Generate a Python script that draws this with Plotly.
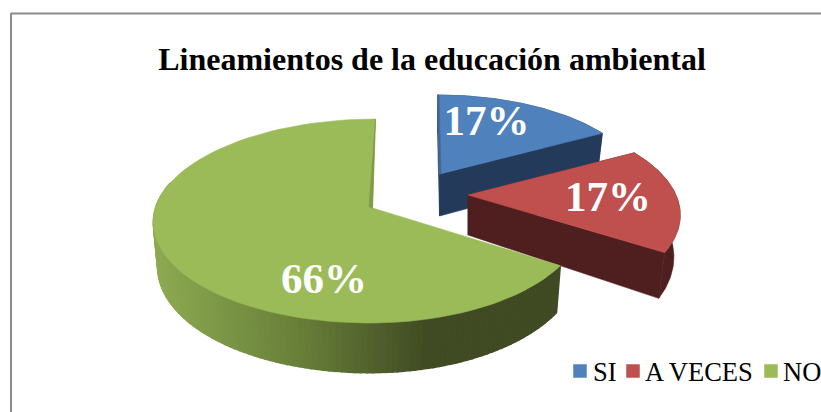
import numpy as np
import plotly.graph_objects as go

categories = ["SI", "A VECES", "NO"]
values = [17, 17, 66]
colors = ["#4f81bd", "#c0504d", "#9bbb59"]
side_colors = ["#243a5a", "#4f1f1f", None]
title = "Lineamientos de la educación ambiental"

# projection of each exploded slice, in pixels
geom = [
    dict(ax=439.5, ay=174, A=90.5, Bl=200, Br=200, k=0.145, shear=-2, d=42, sx=0.97, sy=1.05),
    dict(ax=468, ay=195, A=96, Bl=208, Br=208, k=0.20, shear=0, d=40, sx=0.97, sy=1.10),
    dict(ax=372.5, ay=208, A=100.3, Bl=217, Br=209, k=0.1275, shear=3, d=44, sx=0.98, sy=1.05),
]
label_pos = [(486.5, 124), (608, 200), (324, 282)]
legend_key_x = [580, 633, 771]
legend_text_x = [590.5, 643, 780.5]
legend_y = 371


def project(g, t, bottom=False):
    u, v = np.sin(t), np.cos(t)
    s = 1 + g["k"] * v
    b = np.where(u < 0, g["Bl"], g["Br"])
    dx = b * u / s + g["shear"] * v
    dy = -g["A"] * v / s
    if bottom:
        return g["ax"] + g["sx"] * dx, g["ay"] + g["d"] + g["sy"] * dy
    return g["ax"] + dx, g["ay"] + dy


def poly(fig, x, y, color, w=0.6):
    fig.add_trace(go.Scatter(x=list(x), y=list(y), mode="lines", fill="toself",
                             fillcolor=color, line=dict(color=color, width=w),
                             hoverinfo="skip", showlegend=False))


def green_side(x):
    stops_x = [155, 300, 430, 560]
    rgb = np.array([[0x8d, 0xaa, 0x52], [0x68, 0x7f, 0x39], [0x40, 0x4a, 0x23], [0x40, 0x4a, 0x23]])
    c = [int(np.interp(x, stops_x, rgb[:, i])) for i in range(3)]
    return f"rgb({c[0]},{c[1]},{c[2]})"


fig = go.Figure()
cum = np.cumsum([0] + values) / sum(values) * 2 * np.pi

for i, g in enumerate(geom):
    a0, a1 = cum[i], cum[i + 1]
    ts = np.linspace(a0, a1, 90)
    xt, yt = project(g, ts)
    xb, yb = project(g, ts, True)
    if i < 2:
        # flat cut faces and outer wall
        for edge in (a0, a1):
            x1, y1 = project(g, edge)
            x2, y2 = project(g, edge, True)
            poly(fig, [g["ax"], x1, x2, g["ax"], g["ax"]],
                 [g["ay"], y1, y2, g["ay"] + g["d"], g["ay"]], side_colors[i])
        poly(fig, list(xt) + list(xb[::-1]), list(yt) + list(yb[::-1]), side_colors[i])
    else:
        # shaded outer wall, built from narrow strips
        edges = np.linspace(a0, np.radians(285), 110)
        for j in range(len(edges) - 1):
            tt = edges[j:j + 2]
            xa, ya = project(g, tt)
            xc, yc = project(g, tt, True)
            poly(fig, [xa[0], xa[1], xc[1], xc[0], xa[0]],
                 [ya[0], ya[1], yc[1], yc[0], ya[0]], green_side(xa.mean()), w=1.5)
    poly(fig, [g["ax"]] + list(xt) + [g["ax"]], [g["ay"]] + list(yt) + [g["ay"]], colors[i])

# thin wall seen along the green slice's last edge
g = geom[2]
tipx, tipy = project(g, 2 * np.pi)
poly(fig, [tipx, g["ax"], g["ax"] - 3.5, tipx - 2, tipx],
     [tipy, g["ay"], g["ay"] - 1, tipy + 30, tipy], "#7f9a48")
# thin wall along the blue slice's first edge
g = geom[0]
tipx, tipy = project(g, 0.0)
poly(fig, [tipx, g["ax"], g["ax"] + 1.5, tipx + 1.5, tipx],
     [tipy, g["ay"], g["ay"], tipy, tipy], "#3f6797")

for k, (name, col) in enumerate(zip(categories, colors)):
    fig.add_trace(go.Scatter(x=[legend_key_x[k]], y=[legend_y], mode="markers", name=name,
                             marker=dict(symbol="square", size=13.5, color=col),
                             showlegend=False, hoverinfo="skip"))

fig.add_trace(go.Scatter(x=[p[0] for p in label_pos], y=[p[1] for p in label_pos],
                         mode="text", text=[f"{v}%" for v in values], showlegend=False,
                         textfont=dict(family="Liberation Serif", size=43, color="white",
                                       weight="bold"), hoverinfo="skip"))

annotations = [dict(x=legend_text_x[k], y=legend_y + 0.5, xref="x", yref="y", text=categories[k],
                    showarrow=False, xanchor="left", yanchor="middle",
                    font=dict(family="Liberation Serif", size=26.5, color="black"))
               for k in range(3)]

fig.update_layout(
    width=821, height=412, margin=dict(l=0, r=0, t=0, b=0), showlegend=False,
    paper_bgcolor="white", plot_bgcolor="white",
    xaxis=dict(range=[0, 821], visible=False, fixedrange=True),
    yaxis=dict(range=[412, 0], visible=False, fixedrange=True),
    title=dict(text=title, x=432 / 821, xanchor="center", y=1 - 59 / 412, yanchor="middle",
               font=dict(family="Liberation Serif", size=32, color="black", weight="bold")),
    annotations=annotations,
    shapes=[dict(type="line", xref="x", yref="y", x0=11, y0=13.5, x1=821, y1=13.5,
                 line=dict(color="#8c8c8c", width=2)),
            dict(type="line", xref="x", yref="y", x0=11, y0=13, x1=11, y1=412,
                 line=dict(color="#8c8c8c", width=2))],
)
fig.write_html("out.html", config=dict(displayModeBar=False),
               post_script="document.body.style.margin='0';document.body.style.overflow='hidden';")
